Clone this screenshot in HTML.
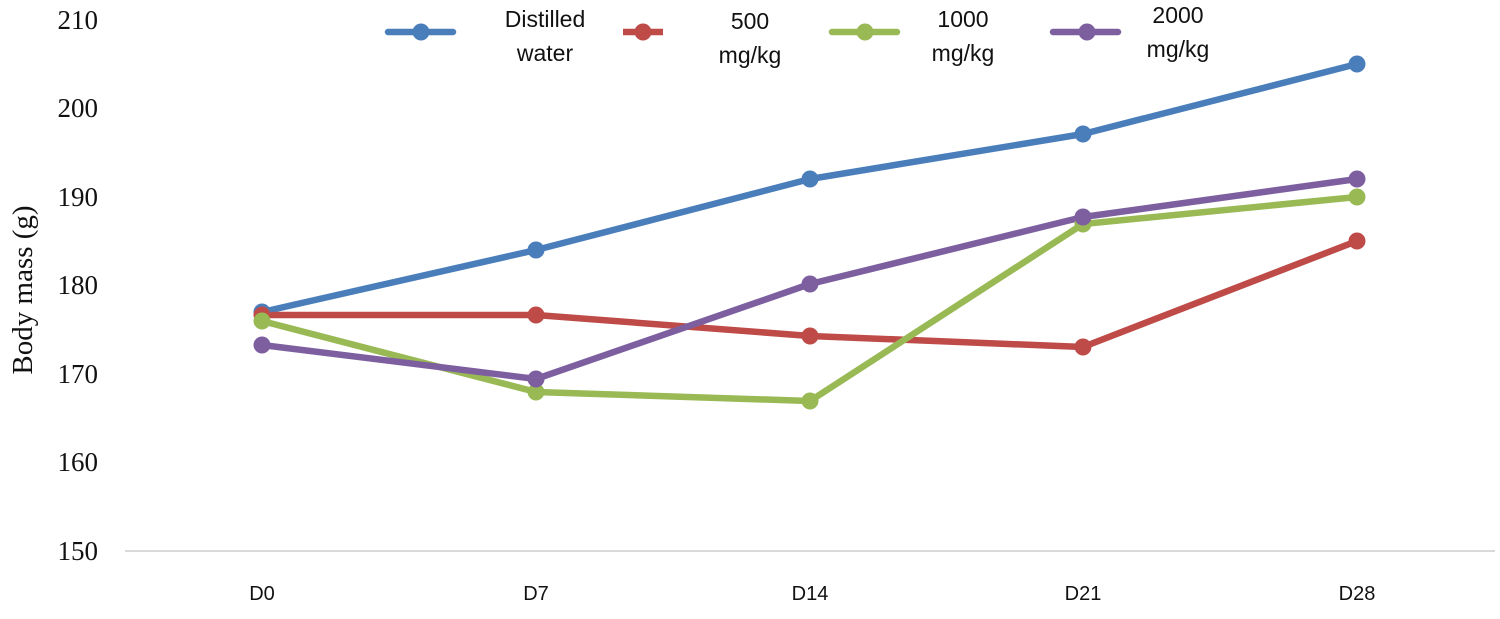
<!DOCTYPE html><html><head><style>body{margin:0;background:#fff}</style></head><body>
<svg width="1500" height="614" xmlns="http://www.w3.org/2000/svg">
<g font-family="Liberation Serif, serif" font-size="27" fill="#111" text-anchor="end">
<text x="98" y="29">210</text><text x="98" y="117">200</text><text x="98" y="206">190</text><text x="98" y="294">180</text><text x="98" y="383">170</text><text x="98" y="471">160</text><text x="98" y="560">150</text>
</g>
<text transform="translate(32,290) rotate(-90)" font-family="Liberation Serif, serif" font-size="29" text-anchor="middle" fill="#111">Body mass (g)</text>
<line x1="125" y1="551" x2="1495" y2="551" stroke="#d9d9d9" stroke-width="2"/>
<g font-family="Liberation Sans, sans-serif" font-size="20" fill="#111" text-anchor="middle">
<text x="262" y="600">D0</text><text x="536" y="600">D7</text><text x="810" y="600">D14</text><text x="1083" y="600">D21</text><text x="1357" y="600">D28</text>
</g>
<g stroke-width="6.5" fill="none" stroke-linejoin="round" stroke-linecap="round">
<polyline stroke="#4a7ebb" points="262,312 536,250 810,179 1083,134 1357,64"/>
<polyline stroke="#be4b48" points="262,315 536,315 810,336 1083,347 1357,241"/>
<polyline stroke="#98b954" points="262,321 536,392 810,401 1083,224 1357,197"/>
<polyline stroke="#7d5fa0" points="262,345 536,379 810,284 1083,217 1357,179"/>
</g>
<g fill="#4a7ebb"><circle cx="262" cy="312" r="8.5"/><circle cx="536" cy="250" r="8.5"/><circle cx="810" cy="179" r="8.5"/><circle cx="1083" cy="134" r="8.5"/><circle cx="1357" cy="64" r="8.5"/></g>
<g fill="#be4b48"><circle cx="262" cy="315" r="8.5"/><circle cx="536" cy="315" r="8.5"/><circle cx="810" cy="336" r="8.5"/><circle cx="1083" cy="347" r="8.5"/><circle cx="1357" cy="241" r="8.5"/></g>
<g fill="#98b954"><circle cx="262" cy="321" r="8.5"/><circle cx="536" cy="392" r="8.5"/><circle cx="810" cy="401" r="8.5"/><circle cx="1083" cy="224" r="8.5"/><circle cx="1357" cy="197" r="8.5"/></g>
<g fill="#7d5fa0"><circle cx="262" cy="345" r="8.5"/><circle cx="536" cy="379" r="8.5"/><circle cx="810" cy="284" r="8.5"/><circle cx="1083" cy="217" r="8.5"/><circle cx="1357" cy="179" r="8.5"/></g>
<g stroke-width="6.5">
<line x1="388" y1="32" x2="453" y2="32" stroke="#4a7ebb" stroke-linecap="round"/><circle cx="421" cy="32" r="8.5" fill="#4a7ebb"/>
<line x1="623" y1="32" x2="663" y2="32" stroke="#be4b48"/><circle cx="643" cy="32" r="8.5" fill="#be4b48"/>
<line x1="832" y1="32" x2="897" y2="32" stroke="#98b954" stroke-linecap="round"/><circle cx="865" cy="32" r="8.5" fill="#98b954"/>
<line x1="1053" y1="32" x2="1118" y2="32" stroke="#7d5fa0" stroke-linecap="round"/><circle cx="1087" cy="32" r="8.5" fill="#7d5fa0"/>
</g>
<g font-family="Liberation Sans, sans-serif" font-size="23" fill="#111" text-anchor="middle">
<text x="545" y="27">Distilled</text><text x="545" y="61">water</text>
<text x="750" y="29">500</text><text x="750" y="63">mg/kg</text>
<text x="963" y="27">1000</text><text x="963" y="61">mg/kg</text>
<text x="1178" y="23">2000</text><text x="1178" y="57">mg/kg</text>
</g>
</svg></body></html>
